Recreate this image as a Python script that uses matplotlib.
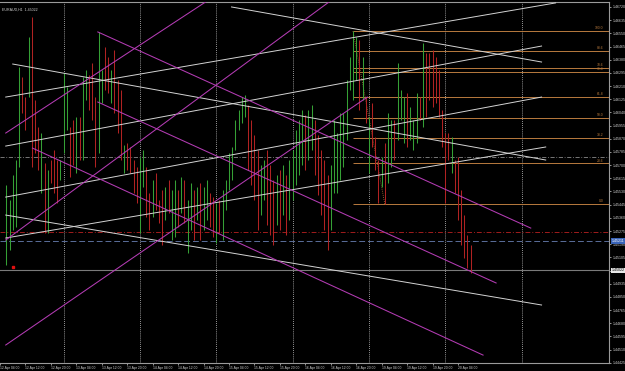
import matplotlib
matplotlib.use("Agg")
import matplotlib.pyplot as plt

plt.rcParams['font.family'] = ['Liberation Sans', 'DejaVu Sans']

# ---------------- data (hour index: 0 = 12 Apr 04:00, weekend skipped) ----------------
first_hour = 2
highs = [1.45572, 1.45475, 1.45636, 1.45733, 1.46333, 1.46268, 1.46139, 1.46526, 1.46655, 1.46120,
         1.45946, 1.45907, 1.45714, 1.45669, 1.45733, 1.45798, 1.45733, 1.45733, 1.46294, 1.46204,
         1.45946, 1.45991, 1.46010, 1.46010, 1.46268, 1.46314, 1.46281, 1.46359, 1.46139, 1.46559,
         1.46314, 1.46462, 1.46397, 1.46314, 1.46443, 1.46249, 1.46185, 1.45830, 1.45843, 1.45817,
         1.45733, 1.45688, 1.45752, 1.45798, 1.45688, 1.45520, 1.45604, 1.45649, 1.45475, 1.45540,
         1.45559, 1.45604, 1.45540, 1.45604, 1.45540, 1.45623, 1.45604, 1.45475, 1.45585, 1.45540,
         1.45559, 1.45585, 1.45559, 1.45604, 1.45520, 1.45494, 1.45456, 1.45475, 1.45540, 1.45604,
         1.45778, 1.45817, 1.45991, 1.46056, 1.46139, 1.46152, 1.46088, 1.45991, 1.45894, 1.45798,
         1.45701, 1.45733, 1.45798, 1.45701, 1.45604, 1.45636, 1.45669, 1.45701, 1.45636, 1.45733,
         1.45798, 1.45927, 1.45991, 1.46056, 1.46023, 1.46056, 1.46088, 1.45991, 1.45894, 1.45798,
         1.45733, 1.45636, 1.45701, 1.45991, 1.45907, 1.46036, 1.46036, 1.46249, 1.46397, 1.46565,
         1.46526, 1.46507, 1.46397, 1.46139, 1.46010, 1.46101, 1.45881, 1.45733, 1.45752, 1.45843,
         1.46036, 1.45991, 1.45991, 1.46359, 1.46185, 1.46139, 1.46165, 1.46075, 1.45991, 1.46165,
         1.46139, 1.46488, 1.46423, 1.46423, 1.46443, 1.46397, 1.46314, 1.46056, 1.45907, 1.45907,
         1.45881, 1.45733, 1.45752, 1.45540, 1.45378, 1.45249, 1.45185]
lows = [1.45056, 1.45153, 1.45282, 1.45301, 1.45688, 1.46036, 1.45927, 1.46139, 1.45688, 1.45778,
        1.45669, 1.45520, 1.45262, 1.45262, 1.45585, 1.45520, 1.45456, 1.45604, 1.45778, 1.45927,
        1.45623, 1.45701, 1.45649, 1.45733, 1.45733, 1.46120, 1.46056, 1.45991, 1.45688, 1.45778,
        1.46101, 1.46185, 1.46165, 1.46101, 1.46036, 1.45907, 1.45733, 1.45649, 1.45669, 1.45649,
        1.45520, 1.45456, 1.45262, 1.45559, 1.45365, 1.45282, 1.45365, 1.45411, 1.45327, 1.45185,
        1.45346, 1.45391, 1.45217, 1.45237, 1.45301, 1.45391, 1.45327, 1.45133, 1.45282, 1.45217,
        1.45346, 1.45217, 1.45282, 1.45346, 1.45301, 1.45237, 1.45198, 1.45262, 1.45217, 1.45411,
        1.45540, 1.45604, 1.45798, 1.45927, 1.45972, 1.46010, 1.45669, 1.45572, 1.45475, 1.45282,
        1.45378, 1.45475, 1.45314, 1.45249, 1.45185, 1.45314, 1.45282, 1.45378, 1.45249, 1.45346,
        1.45475, 1.45572, 1.45636, 1.45701, 1.45669, 1.45733, 1.45798, 1.45636, 1.45507, 1.45378,
        1.45282, 1.45153, 1.45282, 1.45520, 1.45520, 1.45604, 1.45688, 1.45862, 1.46185, 1.46120,
        1.46249, 1.46056, 1.46120, 1.45972, 1.45649, 1.45817, 1.45669, 1.45456, 1.45559, 1.45449,
        1.45585, 1.45688, 1.45733, 1.45862, 1.45991, 1.45843, 1.45817, 1.45862, 1.45798, 1.45843,
        1.45991, 1.45946, 1.46010, 1.46120, 1.46075, 1.46101, 1.46010, 1.45817, 1.45456, 1.45733,
        1.45649, 1.45520, 1.45346, 1.45185, 1.45101, 1.45036, 1.45004]
directions = ("GGGGGRRGRR" "RGRGRRRGGG" "RRGRGGRRRG" "GRRGRRRGRR" "RRGGRRGRRR"
              "GRGGRGRGGR" "GRGGRRGRGG" "GGGGGGRRRR" "GGRRRGRGRG" "GGGGRGGRRR"
              "RRGGGGGGGG" "GRGRGRRRGR" "GGRGGGRGGG" "RGRRRRRRRR" "GRRRRRR")

time_label_hours = [0, 8, 16, 24, 32, 40, 48, 56, 64, 72, 80, 88, 96, 104, 112, 120, 128, 136, 144]
time_labels = ["12 Apr 04:00", "12 Apr 12:00", "12 Apr 20:00", "13 Apr 04:00", "13 Apr 12:00",
               "13 Apr 20:00", "14 Apr 04:00", "14 Apr 12:00", "14 Apr 20:00", "15 Apr 04:00",
               "15 Apr 12:00", "15 Apr 20:00", "16 Apr 04:00", "16 Apr 12:00", "16 Apr 20:00",
               "19 Apr 04:00", "19 Apr 12:00", "19 Apr 20:00", "20 Apr 04:00"]
day_separators = [20, 44, 68, 92, 116, 140, 164]

price_ticks = [1.44425, 1.44510, 1.44595, 1.44680, 1.44765, 1.44850, 1.44935, 1.45020, 1.45105,
               1.45190, 1.45275, 1.45360, 1.45445, 1.45530, 1.45615, 1.45700, 1.45785, 1.45870,
               1.45955, 1.46040, 1.46125, 1.46210, 1.46295, 1.46380, 1.46465, 1.46550, 1.46635,
               1.46720]

white_lines = [((1.8, 1.46139), (174.7, 1.46746)),
               ((4.0, 1.46352), (171.6, 1.45733)),
               ((72.8, 1.46720), (170.3, 1.46365)),
               ((1.8, 1.45823), (170.3, 1.46468)),
               ((1.8, 1.45230), (171.6, 1.45817)),
               ((1.8, 1.45494), (170.3, 1.46139)),
               ((1.8, 1.45378), (170.3, 1.44798))]
magenta_lines = [((1.8, 1.45907), (65.6, 1.46765)),
                 ((1.8, 1.45217), (104.3, 1.46765)),
                 ((1.8, 1.44540), (115.5, 1.46139)),
                 ((30.75, 1.46559), (166.9, 1.45294)),
                 ((30.75, 1.46107), (156.0, 1.44940)),
                 ((10.2, 1.45810), (151.9, 1.44475))]

fib_high = (111, 1.46565)
fib_low = (121, 1.45449)
fib_levels = [0.0, 23.6, 38.2, 50.0, 61.8, 76.4, 78.6, 88.6, 100.0]

gray_dashdot_price = 1.45752
red_dashdot_price = 1.45272
ask_price = 1.45211
bid_price = 1.45022
marker_point = (4.0, 1.45043)
symbol_header = "EURAUD,H1  1.45022"

# ---------------- figure ----------------
W, H = 625, 371
fig = plt.figure(figsize=(W / 100, H / 100), dpi=100, facecolor='black')
ax = fig.add_axes([0, 8 / H, 609 / W, 361 / H])
ax.set_facecolor('black')
xmin, xmax = 1.776, 191.5
ymin, ymax = 1.44424, 1.46752
ax.set_xlim(xmin, xmax)
ax.set_ylim(ymin, ymax)

for s in ['left']:
    ax.spines[s].set_visible(False)
for s in ['right', 'bottom', 'top']:
    ax.spines[s].set_color('#9a9a9a')
    ax.spines[s].set_linewidth(0.8)

# day separators
for h in day_separators:
    ax.axvline(h, color='#c8c8c8', lw=0.6, ls=(0, (1, 1.5)), zorder=1)

# horizontal reference lines
ax.axhline(gray_dashdot_price, color='#8a8a8a', lw=0.6, ls=(0, (5, 2, 1, 2)), zorder=1)
ax.axhline(red_dashdot_price, color='#a01c1c', lw=0.7, ls=(0, (5, 2, 1, 2)), zorder=1)
ax.axhline(ask_price, color='#5a6e9a', lw=0.7, ls=(0, (6, 3)), zorder=1)
ax.axhline(bid_price, color='#7a7a7a', lw=0.8, zorder=1)

# bars
xs = [first_hour + i for i in range(len(highs))]
for x, hi, lo, d in zip(xs, highs, lows, directions):
    ax.vlines(x, lo, hi, color='#35a035' if d == 'G' else '#b02222', lw=0.75, zorder=3)

# fib retracement
fib_color = '#b87a3e'
rng = fib_high[1] - fib_low[1]
for lv in fib_levels:
    p = fib_low[1] + rng * lv / 100.0
    ax.hlines(p, fib_high[0], xmax, color=fib_color, lw=0.7, zorder=2)
    ax.text(xmax - 1.8, p + 0.00004, f"{lv:.1f}", color=fib_color, fontsize=2.4,
            ha='right', va='bottom', zorder=5)
ax.plot([fib_high[0], fib_low[0]], [fib_high[1], fib_low[1]], color=fib_color,
        lw=0.6, ls=(0, (1, 1.5)), zorder=2)

# trend lines
for (a, b) in white_lines:
    ax.plot([a[0], b[0]], [a[1], b[1]], color='#d4d4d4', lw=0.7, zorder=4)
for (a, b) in magenta_lines:
    ax.plot([a[0], b[0]], [a[1], b[1]], color='#b43cb4', lw=0.75, zorder=4)

ax.plot([marker_point[0]], [marker_point[1]], 's', color='#e01010', ms=1.6, zorder=5)

# header
ax.text(0.003, 0.985, symbol_header, transform=ax.transAxes, color='#d0d0d0', fontsize=2.6,
        ha='left', va='top', zorder=6)

# price axis
ax.yaxis.tick_right()
ax.set_yticks(price_ticks)
ax.set_yticklabels([f"{p:.5f}" for p in price_ticks])
ax.tick_params(axis='y', colors='#d0d0d0', labelsize=2.6, length=1.5, width=0.5, pad=1.2)
ax.text(1.004, ask_price, f"{ask_price:.5f}", transform=ax.get_yaxis_transform(),
        color='white', fontsize=2.6, ha='left', va='center', zorder=7, clip_on=False,
        bbox=dict(boxstyle='square,pad=0.15', fc='#3a64b8', ec='none'))
ax.text(1.004, bid_price, f"{bid_price:.5f}", transform=ax.get_yaxis_transform(),
        color='black', fontsize=2.6, ha='left', va='center', zorder=7, clip_on=False,
        bbox=dict(boxstyle='square,pad=0.15', fc='#e8e8e8', ec='none'))

# time axis
ax.set_xticks(time_label_hours)
ax.set_xticklabels(time_labels)
ax.tick_params(axis='x', colors='#d0d0d0', labelsize=2.4, length=1.5, width=0.5, pad=0.8)
for lbl in ax.get_xticklabels():
    lbl.set_horizontalalignment('left')
for t in ax.xaxis.get_major_ticks():
    t.tick1line.set_clip_on(False)

fig.savefig('out.png', dpi=100, facecolor='black')
